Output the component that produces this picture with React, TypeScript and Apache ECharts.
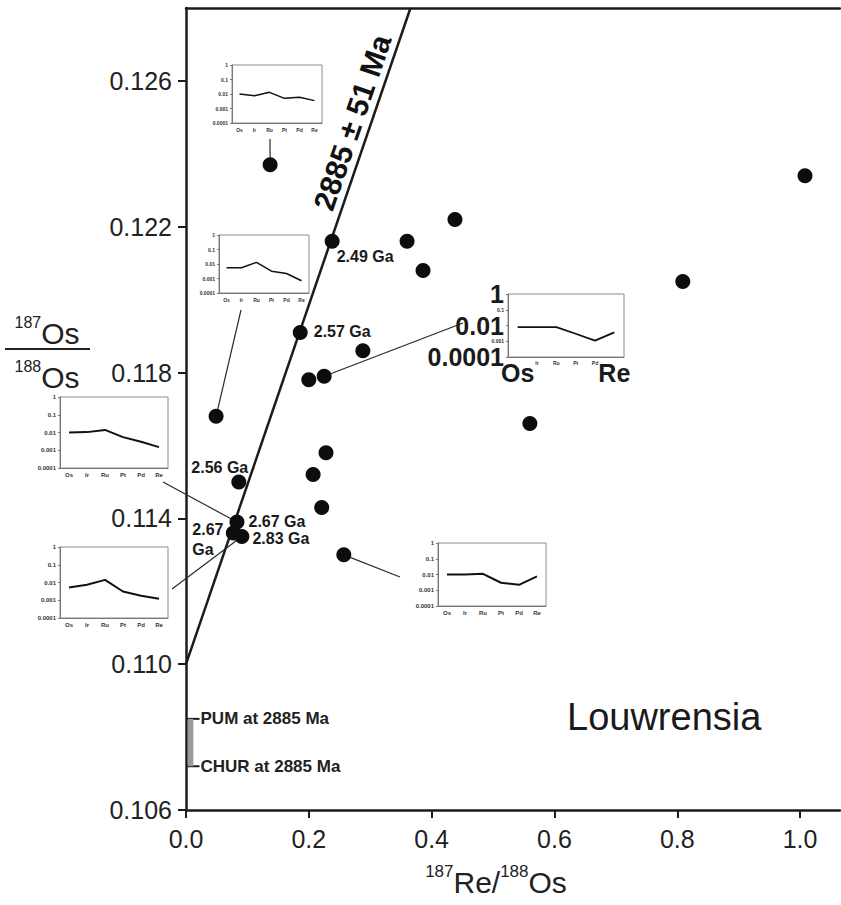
import React, { useEffect, useRef } from 'react';
import * as echarts from 'echarts';

const FONT = '"Liberation Sans", Arial, Helvetica, sans-serif';
const INK = '#1c1c1c';

// 187Re/188Os and 187Os/188Os of the analysed samples
const reOs = [0.137, 0.238, 0.36, 0.438, 0.386, 1.008, 0.809, 0.186, 0.288, 0.2, 0.225, 0.049, 0.56, 0.228, 0.207, 0.086, 0.221, 0.257, 0.083, 0.077, 0.091];
const osOs = [0.1237, 0.1216, 0.1216, 0.1222, 0.1208, 0.1234, 0.1205, 0.1191, 0.1186, 0.1178, 0.1179, 0.1168, 0.1166, 0.1158, 0.1152, 0.115, 0.1143, 0.113, 0.1139, 0.1136, 0.1135];
// Re-depletion model ages (empty where no age is quoted)
const modelAges = ['', '2.49 Ga', '', '', '', '', '', '2.57 Ga', '', '', '', '', '', '', '', '2.56 Ga', '', '', '2.67 Ga', '2.67\nGa', '2.83 Ga'];

// Isochron: initial ratio and slope (e^{λt} − 1, t = 2885 Ma)
const isoInitial = 0.11;
const isoSlope = 0.04924;
const isoLabel = '2885 ± 51 Ma';

// Reservoir compositions at 2885 Ma
const pumOs = 0.1085;
const churOs = 0.1072;

const xTicks = [0, 0.2, 0.4, 0.6, 0.8, 1.0];
const yTicks = [0.106, 0.11, 0.114, 0.118, 0.122, 0.126];
const xMin = 0;
const xMax = 1.065;
const yMin = 0.106;
const yMax = 0.128;

// Chondrite-normalised PGE + Re patterns of selected samples
const pge = ['Os', 'Ir', 'Ru', 'Pt', 'Pd', 'Re'];
const patternA = [0.01, 0.0077, 0.013, 0.005, 0.006, 0.0035];
const patternB = [0.0055, 0.0055, 0.013, 0.0032, 0.0022, 0.0007];
const patternC = [0.01, 0.0105, 0.014, 0.0055, 0.003, 0.0015];
const patternD = [0.0052, 0.0075, 0.014, 0.0031, 0.0018, 0.0012];
const patternE = [0.0078, 0.0078, 0.0078, 0.003, 0.0011, 0.0037];
const patternF = [0.01, 0.01, 0.011, 0.003, 0.0022, 0.0077];
const patterns = [patternA, patternB, patternC, patternD, patternE, patternF];
// sample (index into reOs/osOs) that each pattern belongs to
const patternSample = [0, 11, 18, 20, 10, 17];

// Layout of the small pattern panels and their leader lines
const panels = [
  { left: 232, top: 65, width: 90, height: 58, font: 5, lw: 1.5, anchor: [270, 139] },
  { left: 219, top: 235, width: 90, height: 58, font: 5, lw: 1.5, anchor: [241, 310] },
  { left: 60, top: 397, width: 108, height: 71, font: 6, lw: 2, anchor: [163, 482] },
  { left: 60, top: 547, width: 108, height: 71, font: 6, lw: 2, anchor: [172, 589] },
  { left: 508, top: 294, width: 116, height: 63, font: 5, lw: 1.8, anchor: [463, 323], big: true },
  { left: 438, top: 543, width: 108, height: 63, font: 6, lw: 2, anchor: [400, 577] },
];

// Offsets of the model-age labels from their points
const ageLabelLayout: Record<number, { offset: number[]; align?: string }> = {
  1: { offset: [33, 15] },
  7: { offset: [42, -1] },
  15: { offset: [-19, -14] },
  18: { offset: [40, -1] },
  19: { offset: [-41, 7], align: 'left' },
  20: { offset: [39, 2] },
};

const logFmt = (v: number) => {
  const e = Math.round(Math.log10(v));
  return e >= 0 ? '1' : Math.pow(10, e).toFixed(-e);
};

export default function App() {
  const ref = useRef<HTMLDivElement>(null);

  useEffect(() => {
    const el = ref.current;
    if (!el) return;
    const chart = echarts.init(el, null, { renderer: 'svg' });

    const grids: any[] = [{ left: 186, top: 8, width: 654, height: 802 }];
    const xAxes: any[] = [
      {
        type: 'value', gridIndex: 0, min: xMin, max: xMax,
        axisLine: { show: true, onZero: false, lineStyle: { color: INK, width: 2.5 } },
        axisTick: { show: true, length: 8, customValues: xTicks, lineStyle: { color: INK, width: 2 } },
        axisLabel: {
          customValues: xTicks, formatter: (v: number) => v.toFixed(1),
          fontSize: 25, color: '#222', fontFamily: FONT, margin: 16,
        },
        splitLine: { show: false },
      },
      {
        type: 'value', gridIndex: 0, position: 'top', min: xMin, max: xMax,
        axisLine: { show: true, onZero: false, lineStyle: { color: INK, width: 2.5 } },
        axisTick: { show: false }, axisLabel: { show: false }, splitLine: { show: false },
      },
    ];
    const yAxes: any[] = [
      {
        type: 'value', gridIndex: 0, min: yMin, max: yMax,
        axisLine: { show: true, onZero: false, lineStyle: { color: INK, width: 2.5 } },
        axisTick: { show: true, length: 8, customValues: yTicks, lineStyle: { color: INK, width: 2 } },
        axisLabel: {
          customValues: yTicks, formatter: (v: number) => v.toFixed(3),
          fontSize: 25, color: '#222', fontFamily: FONT, margin: 14,
        },
        splitLine: { show: false },
      },
    ];

    const series: any[] = [
      {
        type: 'line', xAxisIndex: 0, yAxisIndex: 0, symbol: 'none', z: 3,
        lineStyle: { color: INK, width: 2.5 },
        data: [[0, isoInitial], [(yMax - isoInitial) / isoSlope, yMax]],
      },
      {
        type: 'line', xAxisIndex: 0, yAxisIndex: 0, symbol: 'none',
        lineStyle: { color: INK, width: 2 },
        data: [[0, pumOs], [0.022, pumOs]],
      },
      {
        type: 'line', xAxisIndex: 0, yAxisIndex: 0, symbol: 'none',
        lineStyle: { color: INK, width: 2 },
        data: [[0, churOs], [0.022, churOs]],
      },
      {
        type: 'scatter', xAxisIndex: 0, yAxisIndex: 0, symbolSize: 15, z: 5,
        itemStyle: { color: '#0d0d0d', opacity: 1 },
        data: reOs.map((x, i) => {
          const age = modelAges[i];
          const lay = ageLabelLayout[i];
          const item: any = { value: [x, osOs[i]] };
          if (age && lay) {
            item.label = {
              show: true, position: 'inside', formatter: age, offset: lay.offset,
              align: lay.align || 'center', verticalAlign: 'middle',
              fontSize: 16, fontWeight: 'bold', color: '#1a1a1a', fontFamily: FONT, lineHeight: 20,
            };
          }
          return item;
        }),
      },
    ];

    panels.forEach((p, i) => {
      grids.push({
        left: p.left, top: p.top, width: p.width, height: p.height,
        show: true, backgroundColor: '#fff', borderColor: '#8c8c8c', borderWidth: 1, z: 6,
      });
      const small = { fontSize: p.font, color: '#333', fontFamily: FONT, fontWeight: 'bold' };
      const big = { fontSize: 25, color: '#1a1a1a', fontFamily: FONT, fontWeight: 'bold' };
      xAxes.push({
        type: 'category', gridIndex: i + 1, data: pge, boundaryGap: true, z: 7,
        axisLine: { lineStyle: { color: '#777', width: 1 } },
        axisTick: { length: 2, lineStyle: { color: '#777' } },
        axisLabel: p.big
          ? {
              interval: 0, margin: 3,
              formatter: (v: string) => (v === 'Os' || v === 'Re' ? `{b|${v}}` : `{s|${v}}`),
              rich: { b: big, s: small },
            }
          : { interval: 0, margin: 4, ...small },
      });
      yAxes.push({
        type: 'log', logBase: 10, gridIndex: i + 1, min: 0.0001, max: 1, splitNumber: 4, z: 7,
        axisLine: { show: true, lineStyle: { color: '#777', width: 1 } },
        axisTick: { show: true, length: 2, lineStyle: { color: '#777' } },
        splitLine: { show: false },
        axisLabel: p.big
          ? {
              margin: 4, showMinLabel: true, showMaxLabel: true,
              formatter: (v: number) => {
                const s = logFmt(v);
                return s === '1' || s === '0.01' || s === '0.0001' ? `{b|${s}}` : `{s|${s}}`;
              },
              rich: { b: big, s: small },
            }
          : { margin: 4, showMinLabel: true, showMaxLabel: true, formatter: logFmt, ...small },
      });
      series.push({
        type: 'line', xAxisIndex: i + 2, yAxisIndex: i + 1, symbol: 'none', z: 8,
        lineStyle: { color: '#111', width: p.lw },
        data: patterns[i],
      });
    });

    chart.setOption({
      animation: false,
      backgroundColor: '#fff',
      grid: grids,
      xAxis: xAxes,
      yAxis: yAxes,
      series,
    });

    const px = (x: number, y: number) => chart.convertToPixel({ gridIndex: 0 }, [x, y]) as number[];

    // leader lines from each pattern panel to its sample
    const leaders = panels.map((p, i) => {
      const s = patternSample[i];
      const [dx, dy] = px(reOs[s], osOs[s]);
      return {
        type: 'line', z: 4, silent: true,
        shape: { x1: p.anchor[0], y1: p.anchor[1], x2: dx, y2: dy },
        style: { stroke: '#2a2a2a', lineWidth: 1.2 },
      };
    });

    // isochron annotation, written along the line
    const yLab = 0.1247;
    const a = px((yLab - isoInitial) / isoSlope, yLab);
    const b = px((yMax - isoInitial) / isoSlope, yMax);
    const ang = Math.atan2(a[1] - b[1], b[0] - a[0]);
    const gap = 3;

    const pum = px(0.022, pumOs);
    const chur = px(0.022, churOs);
    const barA = px(0.003, pumOs);
    const barB = px(0.012, churOs);

    const sup = { fontSize: 16, fontFamily: FONT, fill: '#222', verticalAlign: 'top', lineHeight: 34 } as any;
    const sup2 = { fontSize: 17, fontFamily: FONT, fill: '#222', verticalAlign: 'top', lineHeight: 34 } as any;
    const base = { fontSize: 30, fontFamily: FONT, fill: '#222', verticalAlign: 'bottom', lineHeight: 34 } as any;

    chart.setOption({
      graphic: [
        ...leaders,
        {
          type: 'text', z: 10, x: a[0] - Math.sin(ang) * gap, y: a[1] - Math.cos(ang) * gap, rotation: ang,
          style: { text: isoLabel, font: `bold 30px ${FONT}`, fill: '#111', align: 'center', verticalAlign: 'bottom' },
        },
        {
          type: 'rect', z: 4, shape: { x: barA[0], y: barA[1], width: barB[0] - barA[0], height: barB[1] - barA[1] },
          style: { fill: '#9a9a9a' },
        },
        {
          type: 'text', z: 10, x: pum[0] + 1, y: pum[1],
          style: { text: 'PUM at 2885 Ma', font: `bold 17px ${FONT}`, fill: '#222', verticalAlign: 'middle' },
        },
        {
          type: 'text', z: 10, x: chur[0] + 1, y: chur[1],
          style: { text: 'CHUR at 2885 Ma', font: `bold 17px ${FONT}`, fill: '#222', verticalAlign: 'middle' },
        },
        {
          type: 'text', z: 10, x: 567, y: 717,
          style: { text: 'Louwrensia', font: `38px ${FONT}`, fill: '#1a1a1a', verticalAlign: 'middle' },
        },
        // x-axis title
        {
          type: 'text', z: 10, x: 496, y: 880,
          style: {
            text: '{s|187}{n|Re/}{s|188}{n|Os}', align: 'center', verticalAlign: 'middle',
            rich: { s: sup2, n: base },
          },
        },
        // y-axis title as a ratio
        {
          type: 'text', z: 10, x: 47, y: 331,
          style: { text: '{s|187}{n|Os}', align: 'center', verticalAlign: 'middle', rich: { s: sup, n: base } },
        },
        {
          type: 'line', z: 10, shape: { x1: 5, y1: 349, x2: 90, y2: 349 },
          style: { stroke: '#222', lineWidth: 2 },
        },
        {
          type: 'text', z: 10, x: 47, y: 375,
          style: { text: '{s|188}{n|Os}', align: 'center', verticalAlign: 'middle', rich: { s: sup, n: base } },
        },
      ],
    });

    return () => chart.dispose();
  }, []);

  return (
    <div
      ref={ref}
      style={{ position: 'absolute', left: 0, top: 0, width: 841, height: 905, background: '#fff' }}
    />
  );
}
